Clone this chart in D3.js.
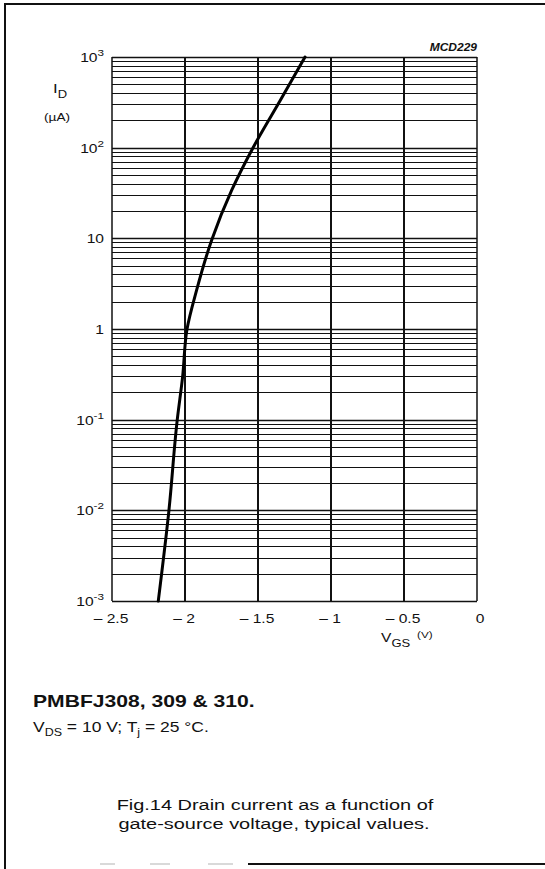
<!DOCTYPE html>
<html>
<head>
<meta charset="utf-8">
<script src="https://cdn.jsdelivr.net/npm/d3@7"></script>
<style>
  html, body { margin: 0; padding: 0; background: #fff; }
  svg { display: block; font-family: "Liberation Sans", Arial, sans-serif; }
</style>
</head>
<body>
<div id="chart"></div>
<script>
// gate-source voltage (V) and drain current (uA)
const vgs = [-2.183, -2.110, -2.053, -2.016, -1.986, -1.920, -1.817, -1.680, -1.534, -1.346, -1.178];
const drainCurrent = [0.001, 0.01, 0.1, 0.3, 1, 2.7, 9.6, 34, 100, 336, 1000];

const xTicks = [-2.5, -2, -1.5, -1, -0.5, 0];
const xTickLabels = ["\u2013 2.5", "\u2013 2", "\u2013 1.5", "\u2013 1", "\u2013 0.5", "0"];
const yTicks = [1e3, 1e2, 10, 1, 1e-1, 1e-2, 1e-3];
const yTickBase = ["10", "10", "10", "1", "10", "10", "10"];
const yTickExp = ["3", "2", "", "", "-1", "-2", "-3"];

const width = 545, height = 869;
const plot = { left: 112, right: 477, top: 57, bottom: 601 };
const stretch = 1.3; // scanned text is wider than the font

const svg = d3.select("#chart").append("svg")
  .attr("width", width)
  .attr("height", height);

const x = d3.scaleLinear().domain([-2.5, 0]).range([plot.left, plot.right]);
const y = d3.scaleLog().domain([1e-3, 1e3]).range([plot.bottom, plot.top]);

// text helper: places a horizontally stretched label
function label(px, py, anchor, size, sx) {
  return svg.append("g")
    .attr("transform", `translate(${px},${py}) scale(${sx || stretch},1)`)
    .append("text")
    .attr("text-anchor", anchor)
    .style("font-size", size + "px")
    .attr("fill", "#111");
}

// outer frame
svg.append("line").attr("x1", 5).attr("x2", 5).attr("y1", 3).attr("y2", height)
  .attr("stroke", "#111").attr("stroke-width", 2);
svg.append("line").attr("x1", 4).attr("x2", width).attr("y1", 4).attr("y2", 4)
  .attr("stroke", "#111").attr("stroke-width", 2);
svg.append("line").attr("x1", 248).attr("x2", width).attr("y1", 864).attr("y2", 864)
  .attr("stroke", "#111").attr("stroke-width", 2);
[[100, 115], [150, 170], [208, 233]].forEach(d => {
  svg.append("line").attr("x1", d[0]).attr("x2", d[1]).attr("y1", 864).attr("y2", 864)
    .attr("stroke", "#ccc").attr("stroke-width", 1.5);
});

// horizontal log grid, decades and minors
const gridValues = [];
for (let e = -3; e < 3; e++) {
  for (let m = 1; m < 10; m++) gridValues.push(m * Math.pow(10, e));
}
gridValues.push(1e3);
const isDecade = d => Math.abs(Math.log10(d) - Math.round(Math.log10(d))) < 1e-6;

svg.append("g")
  .selectAll("line")
  .data(gridValues)
  .join("line")
  .attr("x1", plot.left)
  .attr("x2", plot.right)
  .attr("y1", d => Math.round(y(d)) + 0.5)
  .attr("y2", d => Math.round(y(d)) + 0.5)
  .attr("stroke", "#111")
  .attr("stroke-width", d => isDecade(d) ? 1.6 : 1.2);

// vertical grid
svg.append("g")
  .selectAll("line")
  .data(xTicks)
  .join("line")
  .attr("x1", d => x(d))
  .attr("x2", d => x(d))
  .attr("y1", plot.top)
  .attr("y2", plot.bottom)
  .attr("stroke", "#111")
  .attr("stroke-width", d => (d === -2.5 || d === 0) ? 1.5 : 2);

// the curve
const line = d3.line()
  .x((d, i) => x(vgs[i]))
  .y(d => y(d))
  .curve(d3.curveMonotoneY);

svg.append("path")
  .datum(drainCurrent)
  .attr("d", line)
  .attr("fill", "none")
  .attr("stroke", "#000")
  .attr("stroke-width", 3)
  .attr("stroke-linecap", "round");

// y tick labels
yTicks.forEach((v, i) => {
  const t = label(104, y(v) + 5, "end", 12);
  t.append("tspan").text(yTickBase[i]);
  if (yTickExp[i]) {
    t.append("tspan").attr("dy", -6).style("font-size", "9px").text(yTickExp[i]);
  }
});

// x tick labels
xTicks.forEach((v, i) => {
  label(x(v) + (v === 0 ? 3 : -1), 623, "middle", 12).text(xTickLabels[i]);
});

// axis titles
const id = label(53, 93, "start", 13);
id.append("tspan").text("I");
id.append("tspan").attr("dy", 5).style("font-size", "10px").text("D");
label(57, 121, "middle", 10.5).text("(\u00b5A)");

const vg = label(381, 642, "start", 12);
vg.append("tspan").text("V");
vg.append("tspan").attr("dy", 5).style("font-size", "10px").text("GS");
label(417, 638, "start", 9).text("(V)");

label(477, 51, "end", 10, 1.2)
  .style("font-weight", "bold")
  .style("font-style", "italic")
  .text("MCD229");

// conditions
label(33, 707, "start", 16, 1.32)
  .style("font-weight", "bold")
  .text("PMBFJ308, 309 & 310.");

const cond = label(33, 732, "start", 14, 1.25);
cond.append("tspan").text("V");
cond.append("tspan").attr("dy", 4).style("font-size", "10px").text("DS");
cond.append("tspan").attr("dy", -4).text(" = 10 V; T");
cond.append("tspan").attr("dy", 4).style("font-size", "10px").text("j");
cond.append("tspan").attr("dy", -4).text(" = 25 \u00b0C.");

// caption
label(275, 810, "middle", 15, 1.33).text("Fig.14  Drain current as a function of");
label(274, 829, "middle", 15, 1.33).text("gate-source voltage, typical values.");
</script>
</body>
</html>
